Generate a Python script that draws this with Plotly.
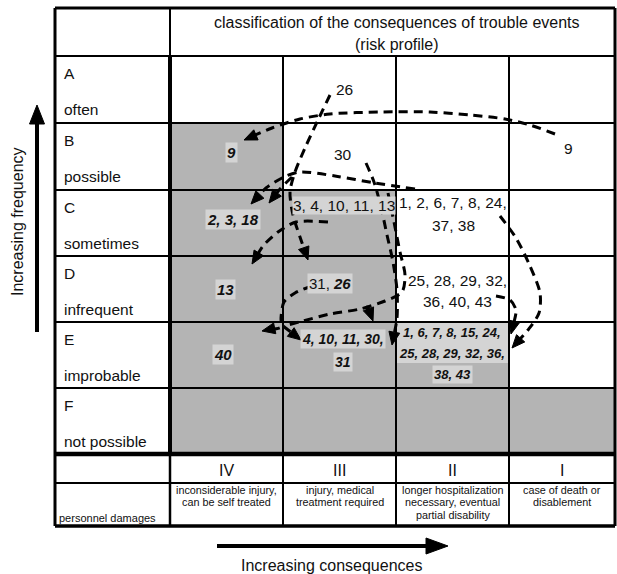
import plotly.graph_objects as go
import numpy as np

# ------------------------------------------------------------------ data
freq_codes = ["A", "B", "C", "D", "E", "F"]
freq_names = ["often", "possible", "sometimes", "infrequent", "improbable", "not possible"]
cons_classes = ["IV", "III", "II", "I"]
cons_descriptions = [
    ["inconsiderable injury,", "can be self treated"],
    ["injury, medical", "treatment required"],
    ["longer hospitalization", "necessary, eventual", "partial disability"],
    ["case of death or", "disablement"],
]
damage_label = "personnel damages"
header_title = "classification of the consequences of trouble events"
header_sub = "(risk profile)"
x_title = "Increasing consequences"
y_title = "Increasing frequency"

# 1 = grey (acceptable) region; rows A..F, columns IV..I
shaded = [
    [0, 0, 0, 0],
    [1, 0, 0, 0],
    [1, 1, 0, 0],
    [1, 1, 0, 0],
    [1, 1, 1, 0],
    [1, 1, 1, 1],
]

# trouble events before measures (plain text)
events_before = {
    (0, 1): ["26"],
    (1, 1): ["30"],
    (1, 3): ["9"],
    (2, 1): ["3, 4, 10, 11, 13"],
    (2, 2): ["1, 2, 6, 7, 8, 24,", "37, 38"],
    (3, 2): ["25, 28, 29, 32,", "36, 40, 43"],
}
# trouble events after measures (bold italic)
events_after = {
    (1, 0): ["9"],
    (2, 0): ["2, 3, 18"],
    (3, 0): ["13"],
    (4, 0): ["40"],
    (4, 1): ["4, 10, 11, 30,", "31"],
    (4, 2): ["1, 6, 7, 8, 15, 24,", "25, 28, 29, 32, 36,", "38, 43"],
}
# mixed cell: before / after
events_mixed = {(3, 1): ("31", "26")}

# ------------------------------------------------------------------ layout / style
W, H = 617, 574
FONT = "Liberation Sans"
GREY = "#b4b4b4"
LIGHT = "#d4d4d4"

col_edges = [55, 170, 283, 396, 509, 615]
row_edges = [8, 56, 123, 190, 256, 322, 388, 454, 483, 526]

# text anchor (x, y of first line, line step, font size, light background)
text_pos = {
    (0, 1): (344, 89, 0, 15.5, False),
    (1, 1): (343, 154, 0, 15.5, False),
    (1, 3): (568, 148, 0, 15.5, False),
    (2, 1): (344, 205, 0, 15.5, True),
    (2, 2): (453, 202, 23, 15.5, False),
    (3, 2): (457, 280, 21.5, 15.5, False),
    (1, 0): (231, 152, 0, 15, True),
    (2, 0): (233, 219, 0, 15, True),
    (3, 0): (225, 289, 0, 15, True),
    (4, 0): (223, 354, 0, 15, True),
    (4, 1): (343, 339, 23, 14, True),
    (4, 2): (452, 332, 21, 13, False),
    (3, 1): (330, 283, 0, 15, True),
}

# dashed arrow paths (pixel space), with arrow head flag
arrow_paths = [
    ([(555, 134), (530, 125), (505, 119), (470, 115), (430, 112), (380, 112),
      (330, 114), (300, 119), (272, 128), (244, 140)], True),
    ([(330, 95), (318, 120), (305, 148), (295, 172), (290, 192), (293, 215),
      (300, 237), (308, 260)], True),
    ([(415, 189), (375, 183), (335, 176), (300, 172), (284, 177), (266, 188),
      (251, 204)], True),
    ([(292, 177), (280, 189), (269, 203)], True),
    ([(328, 222), (296, 222), (278, 232), (263, 246), (252, 264)], True),
    ([(366, 163), (374, 182), (381, 207), (387, 235), (393, 262), (397, 290),
      (397, 318), (392, 345)], True),
    ([(500, 216), (516, 238), (530, 266), (540, 293), (539, 313), (528, 330),
      (512, 348)], True),
    ([(496, 296), (510, 300), (516, 310), (514, 322), (511, 334)], True),
    ([(312, 286), (295, 293), (284, 302), (281, 318), (281, 327), (262, 331)], True),
    ([(283, 326), (292, 333), (301, 340)], True),
    ([(388, 193), (394, 222), (400, 252), (405, 275), (402, 292), (385, 301),
      (360, 309), (330, 314), (303, 321), (288, 325)], False),
    ([(366, 306), (370, 313), (373, 321)], True),
]

fig = go.Figure()
shapes = []
ann = []


def rect(x0, y0, x1, y1, color, layer="below"):
    shapes.append(dict(type="rect", x0=x0, x1=x1, y0=y0, y1=y1,
                       fillcolor=color, line=dict(width=0), layer=layer))


def line(x0, y0, x1, y1, w):
    shapes.append(dict(type="line", x0=x0, x1=x1, y0=y0, y1=y1,
                       line=dict(color="black", width=w), layer="below"))


def text(x, y, s, size, xanchor="center", bg=None, pad=0):
    a = dict(x=x, y=y, text=s, showarrow=False, xanchor=xanchor, yanchor="middle",
             font=dict(family=FONT, size=size, color="#111111"), borderpad=pad)
    if bg:
        a["bgcolor"] = bg
    ann.append(a)


def tri(tip, frm, length, half):
    tip = np.array(tip, float)
    d = tip - np.array(frm, float)
    d /= np.linalg.norm(d)
    n = np.array([-d[1], d[0]])
    b = tip - d * length
    p1, p2 = b + n * half, b - n * half
    shapes.append(dict(type="path",
                       path=f"M{tip[0]},{tip[1]} L{p1[0]},{p1[1]} L{p2[0]},{p2[1]} Z",
                       fillcolor="black", line=dict(color="black", width=1), layer="above"))


# grey cells
for r, row in enumerate(shaded):
    for c, v in enumerate(row):
        if v:
            rect(col_edges[c + 1], row_edges[r + 1], col_edges[c + 2], row_edges[r + 2], GREY)

# light background of upper lines in E-II
rect(col_edges[3] + 1, 323, col_edges[4] - 1, 363, LIGHT)

# grid lines
line(col_edges[0], row_edges[0], col_edges[-1], row_edges[0], 3)
line(col_edges[0], row_edges[1], col_edges[-1], row_edges[1], 2)
for y in row_edges[2:7]:
    line(col_edges[0], y, col_edges[-1], y, 2)
line(col_edges[0], row_edges[7], col_edges[-1], row_edges[7], 4.5)
line(col_edges[0], row_edges[8], col_edges[-1], row_edges[8], 2)
line(col_edges[0], row_edges[9], col_edges[-1], row_edges[9], 3.5)
line(col_edges[0], row_edges[0], col_edges[0], row_edges[9], 3)
line(col_edges[-1], row_edges[0], col_edges[-1], row_edges[9], 3)
line(col_edges[1], row_edges[0], col_edges[1], row_edges[1], 2)
line(col_edges[1], row_edges[1], col_edges[1], row_edges[7], 4)
line(col_edges[1], row_edges[7], col_edges[1], row_edges[9], 2.5)
for x in col_edges[2:5]:
    line(x, row_edges[1], x, row_edges[9], 2)

# header
text(397, 22, header_title, 16)
text(397, 44, header_sub, 16)

# row labels
for i, (code, name) in enumerate(zip(freq_codes, freq_names)):
    top = row_edges[i + 1]
    text(63, top + 17, code, 15.5, xanchor="left")
    text(63, top + 53, name, 15.5, xanchor="left")

# consequence classes and descriptions
for c, (cls, desc) in enumerate(zip(cons_classes, cons_descriptions)):
    cx = (col_edges[c + 1] + col_edges[c + 2]) / 2
    text(cx, 470, cls, 16)
    for k, s in enumerate(desc):
        text(cx, 490 + 12.4 * k, s, 10.8)
text(58, 518, damage_label, 11, xanchor="left")

# event numbers
for cell, lines_ in events_before.items():
    x, y, step, size, bg = text_pos[cell]
    for k, s in enumerate(lines_):
        text(x, y + step * k, s, size, bg=LIGHT if bg else None)

for cell, lines_ in events_after.items():
    x, y, step, size, bg = text_pos[cell]
    for k, s in enumerate(lines_):
        use_bg = bg or (cell == (4, 2) and k == len(lines_) - 1)
        text(x, y + step * k, f"<b><i>{s}</i></b>", size,
             bg=LIGHT if use_bg else None, pad=1 if use_bg else 0)

for cell, (b, a) in events_mixed.items():
    x, y, step, size, bg = text_pos[cell]
    text(x, y, f"{b}, <b><i>{a}</i></b>", size, bg=LIGHT, pad=1)

# dashed arrows
for pts, head in arrow_paths:
    xs = [p[0] for p in pts]
    ys = [p[1] for p in pts]
    if head:
        tip = np.array(pts[-1], float)
        prev = np.array(pts[-2], float)
        d = tip - prev
        d /= np.linalg.norm(d)
        end = tip - d * 9
        xs[-1], ys[-1] = end[0], end[1]
    fig.add_trace(go.Scatter(x=xs, y=ys, mode="lines", hoverinfo="skip",
                             line=dict(color="black", width=3, dash="9px,6px",
                                       shape="spline", smoothing=0.8)))
    if head:
        tri(pts[-1], pts[-2], 13, 5.5)

# big axis arrows
line(217, 546, 428, 546, 4)
tri((448, 546), (400, 546), 22, 8)
line(37, 332, 37, 120, 4)
tri((37, 105), (37, 200), 19, 7.5)
text(331, 565, x_title, 16)
ann.append(dict(x=17, y=222, text=y_title, showarrow=False, textangle=-90,
                xanchor="center", yanchor="middle",
                font=dict(family=FONT, size=16, color="#111111")))

fig.update_layout(
    width=W, height=H, margin=dict(l=0, r=0, t=0, b=0),
    paper_bgcolor="white", plot_bgcolor="white", showlegend=False,
    shapes=shapes, annotations=ann,
    xaxis=dict(range=[0, W], visible=False, fixedrange=True),
    yaxis=dict(range=[H, 0], visible=False, fixedrange=True),
)
fig.write_html("out.html", config={"displayModeBar": False},
               post_script="document.body.style.margin='0';document.body.style.overflow='hidden';")
